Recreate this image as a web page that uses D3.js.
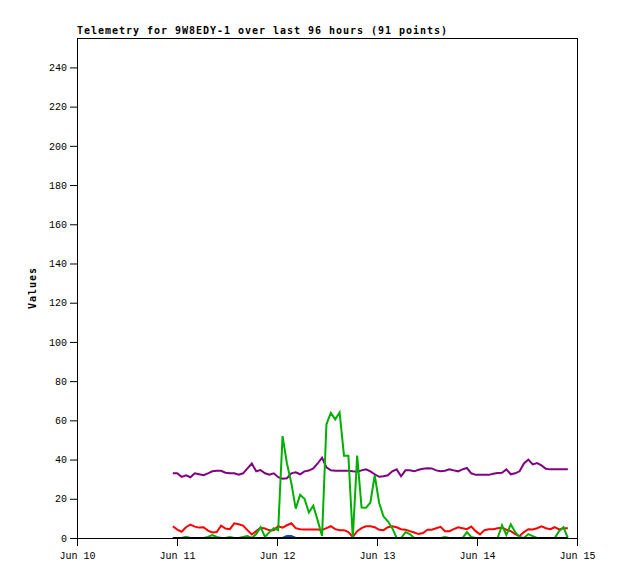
<!DOCTYPE html>
<html>
<head>
<meta charset="utf-8">
<script src="https://cdn.jsdelivr.net/npm/d3@7"></script>
<style>
  html, body { margin: 0; padding: 0; background: #fff; }
  svg { display: block; }
</style>
</head>
<body>
<svg id="chart" width="618" height="579"></svg>
<script>
// ---------- DATA ----------
const titleText = "Telemetry for 9W8EDY-1 over last 96 hours (91 points)";
const yLabel = "Values";
const xTickDates = ["2024-06-10", "2024-06-11", "2024-06-12", "2024-06-13", "2024-06-14", "2024-06-15"];
const yTicks = [0, 20, 40, 60, 80, 100, 120, 140, 160, 180, 200, 220, 240];
const firstSample = "2024-06-10T23:00:00";
const sampleStepMinutes = 63.2;

const seriesRed = [6,4.3,3.2,5.5,6.8,5.8,5.3,5.5,3.8,2.8,3,6.3,4.8,4.5,7.5,7,6.3,4,1.8,3.5,
  5.2,4.8,3.9,4,6,5.3,6.5,7.5,5,4.5,4.3,4.3,4.3,4.3,4.1,5,6,4.5,4,4,
  3,0.5,3.5,5,6,6,5.5,4.2,4,5.5,6,5.5,4.5,4.2,3.5,2.8,2,2.5,4.2,4.2,
  5,5.7,3.5,3.5,4.5,5.5,5,4.5,5.8,3.5,1.8,4,4.5,4.5,5,5.2,4.2,3.5,2,1,
  3,4.5,4.3,5,6,5,4.5,5.5,4.4,5,5];
const seriesGreen = [0,0,0,0.6,0,0,0,0,0.5,1.5,0.5,0,0,0.5,0,0,0.5,1,0,2,
  5.5,0.5,3,5,4,52,38,28,15,22,20,13,16.5,9,1,58,63.8,60.5,64,42,
  42,0,42,15.5,15.4,18,32,18,11,8.5,5,0,0,3,2,0,0,0,0,0,
  0,0,0.5,0,0,0,0,3,0.5,0,0,0,0,0,0,6.5,1.5,7,3,0.5,
  0,2,1,0,0,0,0,0,3.5,5.5,0];
const seriesBlue = [0,0,0,0,0,0,0,0,0,0,0,0,0,0,0,0,0,0,0,0,
  0,0,0,0,0,0,1,1,0,0,0,0,0,0,0,0,0,0,0,0,
  0,0,0,0,0,0,0,0,0,0,0,0,0,0,0,0,0,0,0,0,
  0,0,0,0,0,0,0,0,0,0,0,0,0,0,0,0,0,0,0,0,
  0,0,0,0,0,0,0,0,0,0,0];
const seriesPurple = [33,33,31.2,32,31,33,32.5,32,33,34,34.3,34.3,33.3,33,33,32.3,33,35.5,38,34,
  34.6,33,32.3,33,31,30.2,30.5,33,33.5,32.5,34,34.4,35.5,38,41,36,34.5,34.3,34.3,34.3,
  34.3,34,33.8,34.5,35,34,32.5,31.2,31.5,32,34,35,31.5,34.5,34.5,34,34.8,35.3,35.6,35.5,
  34.5,34,34.3,35,34.5,34,35,35.7,33,32.2,32.2,32.2,32.2,32.8,33.2,33.3,35,32.5,33,34,
  38,40,37.5,38.2,37,35.3,35,35,35,35,35];
const seriesBlack = [0,0,0,0,0,0,0,0,0,0,0,0,0,0,0,0,0,0,0,0,
  0,0,0,0,0,0,0,0,0,0,0,0,0,0,0,0,0,0,0,0,
  0,0,0,0,0,0,0,0,0,0,0,0,0,0,0,0,0,0,0,0,
  0,0,0,0,0,0,0,0,0,0,0,0,0,0,0,0,0,0,0,0,
  0,0,0,0,0,0,0,0,0,0,0];

const seriesList = [
  { values: seriesBlue,   color: "#0050c8" },
  { values: seriesRed,    color: "#ff0000" },
  { values: seriesPurple, color: "#800080" },
  { values: seriesGreen,  color: "#00b000" },
  { values: seriesBlack,  color: "#000000" }
];

// ---------- LAYOUT ----------
const svg = d3.select("#chart");
svg.append("rect").attr("width", 618).attr("height", 579).attr("fill", "#fff");

const plotL = 77, plotR = 577, plotT = 38, plotB = 538;
const parseDay = d3.timeParse("%Y-%m-%d");
const parseTs = d3.timeParse("%Y-%m-%dT%H:%M:%S");
const xDates = xTickDates.map(parseDay);

const x = d3.scaleTime()
  .domain([xDates[0], xDates[xDates.length - 1]])
  .range([plotL, plotR]);
const y = d3.scaleLinear().domain([0, 255]).range([plotB, plotT]);

const t0 = parseTs(firstSample);
const times = seriesRed.map((_, i) => new Date(t0.getTime() + i * sampleStepMinutes * 60000));

const monoFont = "'Liberation Mono', 'DejaVu Sans Mono', monospace";

// frame (top & right)
svg.append("line").attr("x1", plotL).attr("x2", plotR + 0.5).attr("y1", plotT + 0.5).attr("y2", plotT + 0.5)
  .attr("stroke", "#000").attr("stroke-width", 1);
svg.append("line").attr("x1", plotR + 0.5).attr("x2", plotR + 0.5).attr("y1", plotT).attr("y2", plotB)
  .attr("stroke", "#000").attr("stroke-width", 1);

// lines
const line = d3.line()
  .x((d, i) => x(times[i]))
  .y(d => y(d));

svg.append("g").selectAll("path").data(seriesList).join("path")
  .attr("d", s => line(s.values))
  .attr("fill", "none")
  .attr("stroke", s => s.color)
  .attr("stroke-width", 2)
  .attr("stroke-linejoin", "miter");

// axes
const yAxis = d3.axisLeft(y).tickValues(yTicks).tickSize(7).tickSizeOuter(0).tickPadding(3);
const gy = svg.append("g").attr("transform", `translate(${plotL},0)`).call(yAxis);
const xAxis = d3.axisBottom(x).tickValues(xDates).tickFormat(d3.timeFormat("%b %d"))
  .tickSize(8).tickSizeOuter(0).tickPadding(6);
const gx = svg.append("g").attr("transform", `translate(0,${plotB})`).call(xAxis);

[gx, gy].forEach(g => {
  g.selectAll("path.domain").attr("stroke", "#000");
  g.selectAll(".tick line").attr("stroke", "#000");
  g.selectAll(".tick text").attr("fill", "#000")
    .style("font-family", monoFont).style("font-size", "10px");
});

// title
svg.append("text")
  .attr("x", plotL).attr("y", 34)
  .style("font-family", "'DejaVu Sans Mono', monospace")
  .style("font-size", "10px").style("font-weight", "bold")
  .style("letter-spacing", "0.98px")
  .attr("fill", "#000")
  .text(titleText);

// y label
svg.append("text")
  .attr("transform", `translate(36,${(plotT + plotB) / 2}) rotate(-90)`)
  .attr("text-anchor", "middle")
  .style("font-family", "'DejaVu Sans Mono', monospace")
  .style("font-size", "10px").style("font-weight", "bold")
  .style("letter-spacing", "0.98px")
  .attr("fill", "#000")
  .text(yLabel);
</script>
</body>
</html>
